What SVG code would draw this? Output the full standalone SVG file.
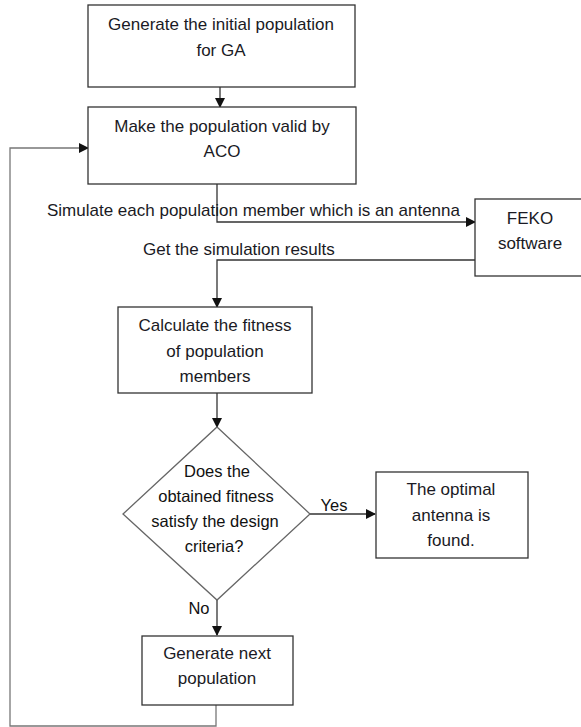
<svg xmlns="http://www.w3.org/2000/svg" width="581" height="727" viewBox="0 0 581 727">
<defs>
<marker id="ah" markerWidth="10" markerHeight="10" refX="9" refY="5" orient="auto" markerUnits="userSpaceOnUse">
<path d="M0,0 L10,5 L0,10 Z" fill="#111"/>
</marker>
<style>
.box{fill:#fff;stroke:#333;stroke-width:1.3}
.dia{fill:#fff;stroke:#666;stroke-width:1.3}
.t{font-family:"Liberation Sans",Arial,sans-serif;font-size:17px;fill:#1a1a24;text-anchor:middle}
.d{font-family:"Liberation Sans",Arial,sans-serif;font-size:16.5px;fill:#111;text-anchor:middle}
.l{font-family:"Liberation Sans",Arial,sans-serif;font-size:17px;fill:#1a1a24}
.c{fill:none;stroke:#333;stroke-width:1.3}
.g{fill:none;stroke:#777;stroke-width:1.3}
</style>
</defs>
<rect width="581" height="727" fill="#fff"/>
<g id="connectors">
<path class="c" d="M220,87 V107" marker-end="url(#ah)"/>
<path class="g" d="M216,705 V726 H10 V148 H88" marker-end="url(#ah)"/>
<path class="c" d="M217,184 V222 H475" marker-end="url(#ah)"/>
<path class="c" d="M475,260 H217 V307" marker-end="url(#ah)"/>
<path class="c" d="M217,393 V427" marker-end="url(#ah)"/>
<path class="c" d="M310,514 H375" marker-end="url(#ah)"/>
<path class="c" d="M217,600 V635" marker-end="url(#ah)"/>
<text class="l" x="47" y="216">Simulate each population member which is an antenna</text>
<text class="l" x="143" y="255">Get the simulation results</text>
<text class="d" x="334" y="511">Yes</text>
<text class="d" x="199" y="614">No</text>
</g>
<g id="n1">
<rect class="box" x="88" y="5" width="267" height="82"/>
<text class="t" x="221" y="30">Generate the initial population</text>
<text class="t" x="221" y="56">for GA</text>
</g>
<g id="n2">
<rect class="box" x="88" y="107" width="268" height="77"/>
<text class="t" x="222" y="132">Make the population valid by</text>
<text class="t" x="222" y="157">ACO</text>
</g>
<g id="feko">
<rect class="box" x="475" y="199" width="110" height="77"/>
<text class="t" x="530" y="224">FEKO</text>
<text class="t" x="530" y="249">software</text>
</g>
<g id="n3">
<rect class="box" x="118" y="307" width="194" height="86"/>
<text class="t" x="215" y="331">Calculate the fitness</text>
<text class="t" x="215" y="357">of population</text>
<text class="t" x="215" y="382">members</text>
</g>
<g id="decision">
<polygon class="dia" points="217,427 310,514 217,600 123,514"/>
<text class="d" x="217" y="477">Does the</text>
<text class="d" x="216" y="502">obtained fitness</text>
<text class="d" x="215" y="527">satisfy the design</text>
<text class="d" x="214" y="552">criteria?</text>
</g>
<g id="result">
<rect class="box" x="376" y="472" width="152" height="86"/>
<text class="t" x="451" y="495">The optimal</text>
<text class="t" x="451" y="521">antenna is</text>
<text class="t" x="451" y="546">found.</text>
</g>
<g id="n4">
<rect class="box" x="142" y="636" width="151" height="69"/>
<text class="t" x="217" y="659">Generate next</text>
<text class="t" x="217" y="684">population</text>
</g>
</svg>
